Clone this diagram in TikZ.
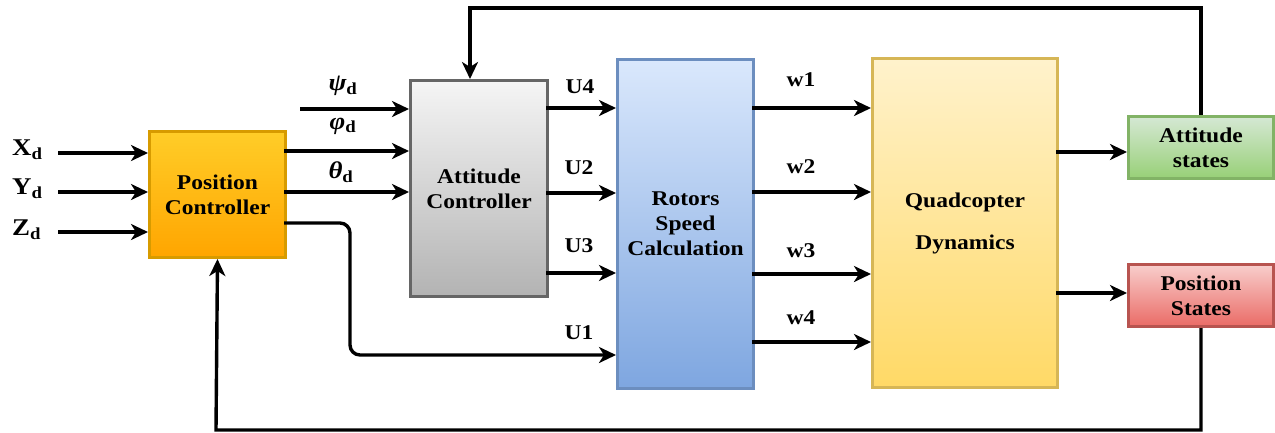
\documentclass[tikz,border=0pt]{standalone}
\usepackage{fontspec}
\setmainfont{Liberation Serif}[FakeStretch=1.12]
\usetikzlibrary{arrows.meta}
\definecolor{pcT}{HTML}{FFCD28}\definecolor{pcB}{HTML}{FFA500}\definecolor{pcD}{HTML}{D79B00}
\definecolor{acT}{HTML}{F5F5F5}\definecolor{acB}{HTML}{B3B3B3}\definecolor{acD}{HTML}{666666}
\definecolor{rsT}{HTML}{DAE8FC}\definecolor{rsB}{HTML}{7EA6E0}\definecolor{rsD}{HTML}{6C8EBF}
\definecolor{qdT}{HTML}{FFF2CC}\definecolor{qdB}{HTML}{FFD966}\definecolor{qdD}{HTML}{D6B656}
\definecolor{asT}{HTML}{D5E8D4}\definecolor{asB}{HTML}{97D077}\definecolor{asD}{HTML}{82B366}
\definecolor{psT}{HTML}{F8CECC}\definecolor{psB}{HTML}{EA6B66}\definecolor{psD}{HTML}{B85450}
\begin{document}
\begin{tikzpicture}[x=1pt,y=-1pt,
  blk/.style={anchor=north west,inner sep=0pt,line width=3pt,align=center,
    font=\fontsize{21}{25}\selectfont\bfseries},
  arr/.style={line width=3.4pt,-{Stealth[length=17pt,width=16pt,inset=5pt]}},
  fb/.style={line width=3.4pt},
  lbl/.style={inner sep=0pt,font=\fontsize{21}{24}\selectfont\bfseries},
  inl/.style={inner sep=0pt,font=\fontsize{24}{27}\selectfont\bfseries}]
\useasboundingbox (0,0) rectangle (1275,432);
% blocks
\node[blk,draw=pcD,top color=pcT,bottom color=pcB,minimum width=136pt,minimum height=126pt] (pc) at (148,130) {Position\\Controller};
\node[blk,draw=acD,top color=acT,bottom color=acB,minimum width=137pt,minimum height=216pt] (ac) at (409,79) {Attitude\\Controller};
\node[blk,draw=rsD,top color=rsT,bottom color=rsB,minimum width=136pt,minimum height=329pt] (rs) at (616,58) {Rotors\\Speed\\Calculation};
\node[blk,draw=qdD,top color=qdT,bottom color=qdB,minimum width=185pt,minimum height=329pt,font=\fontsize{21}{42}\selectfont\bfseries] (qd) at (871,57) {Quadcopter\\Dynamics};
\node[blk,draw=asD,top color=asT,bottom color=asB,minimum width=145pt,minimum height=62pt] (as) at (1127,115) {Attitude\\states};
\node[blk,draw=psD,top color=psT,bottom color=psB,minimum width=145pt,minimum height=62pt] (ps) at (1127,263) {Position\\States};
% input labels
\node[inl,anchor=west] (xd) at (12,150) {X\textsubscript{d}};
\node[inl,anchor=west] (yd) at (12,189) {Y\textsubscript{d}};
\node[inl,anchor=west] (zd) at (12,230) {Z\textsubscript{d}};
\coordinate (xin) at (58,153);
\coordinate (yin) at (58,192);
\coordinate (zin) at (58,232);
\draw[arr] (xin) -- (pc.west |- xin);
\draw[arr] (yin) -- (pc.west |- yin);
\draw[arr] (zin) -- (pc.west |- zin);
% attitude inputs
\coordinate (psiin) at (300,109);
\coordinate (phio) at (284,151);
\coordinate (tho) at (284,192);
\draw[arr] (psiin) -- (ac.west |- psiin);
\draw[arr] (phio) -- (ac.west |- phio);
\draw[arr] (tho) -- (ac.west |- tho);
\node[inl] (psil) at (343,86) {\itshape ψ\textsubscript{\upshape d}};
\node[inl] (phil) at (343,126) {\itshape φ\textsubscript{\upshape d}};
\node[inl] (thl) at (341,172) {\itshape θ\textsubscript{\upshape d}};
% U1 path
\coordinate (zo) at (284,223);
\coordinate (u1c) at (350,355);
\draw[arr,rounded corners=10pt] (zo) -- (u1c |- zo) -- (u1c) -- (rs.west |- u1c);
% attitude outputs
\coordinate (u4) at (546,108);
\coordinate (u2) at (546,193);
\coordinate (u3) at (546,273);
\draw[arr] (u4) -- (rs.west |- u4);
\draw[arr] (u2) -- (rs.west |- u2);
\draw[arr] (u3) -- (rs.west |- u3);
\node[lbl] (lu4) at (580,87) {U4};
\node[lbl] (lu2) at (579,168) {U2};
\node[lbl] (lu3) at (579,246) {U3};
\node[lbl] (lu1) at (579,333) {U1};
% w outputs
\coordinate (w1) at (752,108);
\coordinate (w2) at (752,192);
\coordinate (w3) at (752,274);
\coordinate (w4) at (752,342);
\draw[arr] (w1) -- (qd.west |- w1);
\draw[arr] (w2) -- (qd.west |- w2);
\draw[arr] (w3) -- (qd.west |- w3);
\draw[arr] (w4) -- (qd.west |- w4);
\node[lbl] (lw1) at (801,80) {w1};
\node[lbl] (lw2) at (801,167) {w2};
\node[lbl] (lw3) at (801,251) {w3};
\node[lbl] (lw4) at (801,318) {w4};
% dynamics outputs
\coordinate (ao) at (1056,152);
\coordinate (po) at (1056,293);
\draw[arr] (ao) -- (as.west |- ao);
\draw[arr] (po) -- (ps.west |- po);
% feedback
\coordinate (tl) at (470,8);
\coordinate (bl) at (216,430);
\draw[arr] (as.north) -- (as.north |- tl) -- (tl) -- (tl |- ac.north);
\draw[arr] (ps.south) -- (ps.south |- bl) -- (bl) -- (pc.south);
\end{tikzpicture}
\end{document}
